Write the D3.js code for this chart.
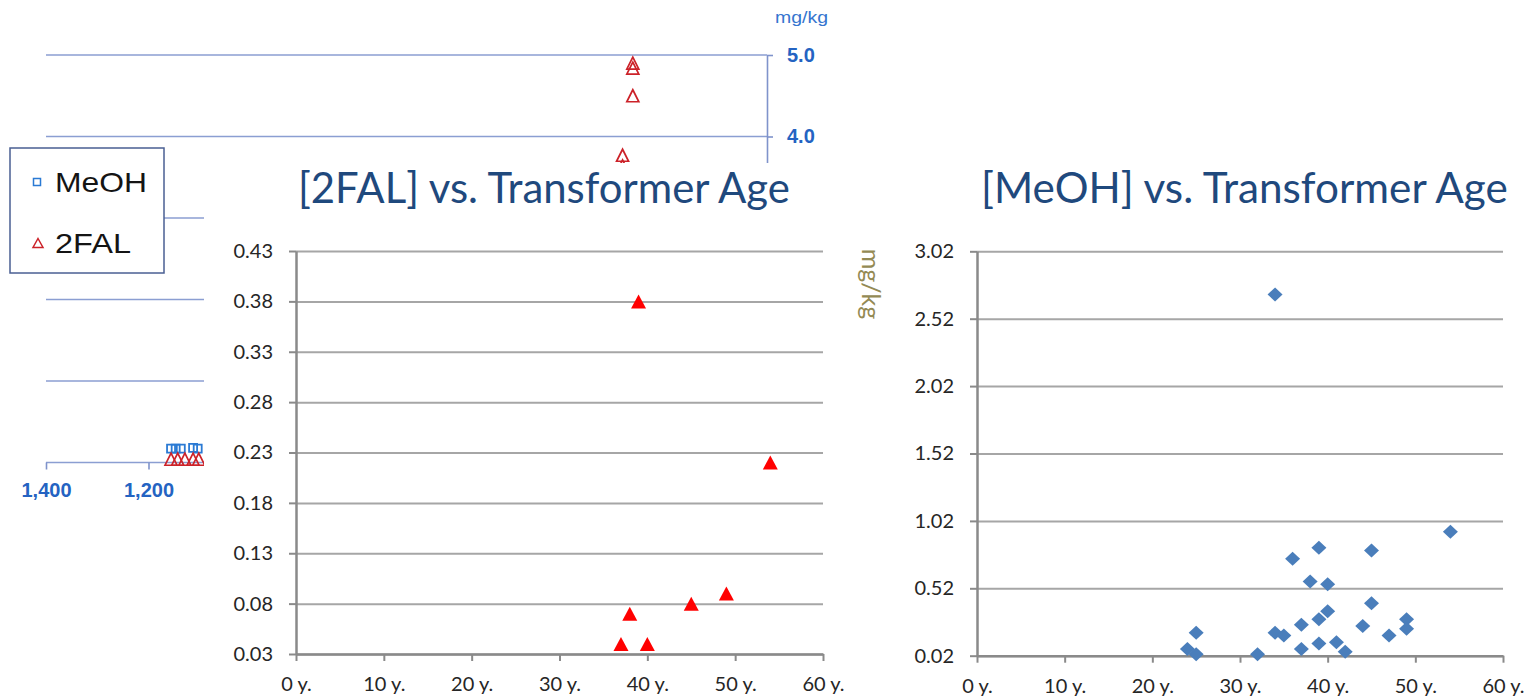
<!DOCTYPE html>
<html>
<head>
<meta charset="utf-8">
<script src="https://cdn.jsdelivr.net/npm/d3@7"></script>
<style>
  body { margin: 0; background: #fff; }
  svg { display: block; }
</style>
</head>
<body>
<div id="chart"></div>
<script>
// [2FAL] vs. Transformer Age
const falAges   = [39, 54, 49, 45, 38, 37, 40];
const falValues = [0.38, 0.22, 0.09, 0.08, 0.07, 0.04, 0.04];
const falTicks  = [0.03, 0.08, 0.13, 0.18, 0.23, 0.28, 0.33, 0.38, 0.43];

// [MeOH] vs. Transformer Age
const meohAges   = [34, 54, 39, 45, 36, 38, 40, 45, 40, 39, 37, 44, 49, 49, 47, 34, 35, 25, 24, 25, 32, 37, 39, 41, 42];
const meohValues = [2.70, 0.94, 0.82, 0.80, 0.74, 0.57, 0.55, 0.41, 0.35, 0.29, 0.25, 0.24, 0.29, 0.22, 0.17,
                    0.19, 0.17, 0.19, 0.07, 0.03, 0.03, 0.07, 0.11, 0.12, 0.05];
const meohTicks  = [0.02, 0.52, 1.02, 1.52, 2.02, 2.52, 3.02];

const ageTicks = [0, 10, 20, 30, 40, 50, 60];

// the older chart that sits behind the two panels (only partly visible)
const backDaysFal  = [255, 255, 255, 275, 275, 1156, 1143, 1129, 1113, 1102];
const backFal      = [4.90, 4.84, 4.50, 3.77, 3.64, 0.04, 0.04, 0.04, 0.04, 0.04];
const backDaysMeoh = [1156, 1147, 1137, 1113, 1104];
const backMeoh     = [0.17, 0.17, 0.17, 0.18, 0.17];
const backGrid     = [0, 1, 2, 3, 4, 5];
const backYTicks   = [4, 5];
const backXTicks   = [1400, 1200];
const legendNames  = ["MeOH", "2FAL"];

const W = 1534, H = 698;
const calibri = "Lato, 'Open Sans', sans-serif";
const arial = "'Liberation Sans', Arial, sans-serif";

const svg = d3.select("#chart").append("svg")
    .attr("width", W)
    .attr("height", H);
svg.append("rect").attr("width", W).attr("height", H).attr("fill", "#fff");

// marker paths centred on 0,0
function triPath(w, h) {
    const p = d3.path();
    p.moveTo(0, -h / 2); p.lineTo(w / 2, h / 2); p.lineTo(-w / 2, h / 2); p.closePath();
    return p.toString();
}
function diamondPath(w, h) {
    const p = d3.path();
    p.moveTo(0, -h / 2); p.lineTo(w / 2, 0); p.lineTo(0, h / 2); p.lineTo(-w / 2, 0); p.closePath();
    return p.toString();
}
function squarePath(s) {
    const p = d3.path();
    p.rect(-s / 2, -s / 2, s, s);
    return p.toString();
}

// ---------- background chart ----------
const backRight = 767;
const bx = d3.scaleLinear().domain([1400, 1200]).range([46, 148.5]);
const by = d3.scaleLinear().domain([0, 5]).range([462.5, 55]);
const back = svg.append("g");

back.selectAll("line.grid")
    .data(backGrid)
    .join("line")
    .attr("class", "grid")
    .attr("x1", bx(1400)).attr("x2", backRight)
    .attr("y1", d => by(d)).attr("y2", d => by(d))
    .attr("stroke", "#8b9ed2")
    .attr("stroke-width", 1.6);

const bYAxis = back.append("g")
    .attr("transform", `translate(${backRight},0)`)
    .call(d3.axisRight(by).tickValues(backYTicks).tickSize(6).tickSizeOuter(0).tickPadding(14).tickFormat(d3.format(".1f")));
const bXAxis = back.append("g")
    .attr("transform", `translate(0,${by(0)})`)
    .call(d3.axisBottom(bx).tickValues(backXTicks).tickSize(7).tickSizeOuter(0).tickPadding(13).tickFormat(d3.format(",")));
bXAxis.select(".domain").remove();
[bYAxis, bXAxis].forEach(a => {
    a.selectAll(".domain, .tick line").attr("stroke", "#7f93cb").attr("stroke-width", 1.6);
    a.selectAll(".tick text")
        .attr("fill", "#2463c2")
        .attr("font-family", arial)
        .attr("font-weight", "bold")
        .attr("font-size", 20);
});

back.append("text")
    .attr("x", 775)
    .attr("y", 23)
    .attr("font-family", arial)
    .attr("font-size", 16)
    .attr("textLength", 53)
    .attr("lengthAdjust", "spacingAndGlyphs")
    .attr("fill", "#3575cf")
    .text("mg/kg");

back.selectAll("path.bmeoh")
    .data(backDaysMeoh)
    .join("path")
    .attr("class", "bmeoh")
    .attr("d", squarePath(8))
    .attr("transform", (d, i) => `translate(${bx(d)},${by(backMeoh[i])})`)
    .attr("fill", "none")
    .attr("stroke", "#2a7ad4")
    .attr("stroke-width", 1.8);

back.selectAll("path.bfal")
    .data(backDaysFal)
    .join("path")
    .attr("class", "bfal")
    .attr("d", triPath(12, 12))
    .attr("transform", (d, i) => `translate(${bx(d)},${by(backFal[i])})`)
    .attr("fill", "none")
    .attr("stroke", "#cc2229")
    .attr("stroke-width", 1.7);

// legend of the background chart
const legend = svg.append("g");
legend.append("rect")
    .attr("x", 10).attr("y", 148)
    .attr("width", 154).attr("height", 125)
    .attr("fill", "#fff")
    .attr("stroke", "#4a5f93")
    .attr("stroke-width", 1.5);
legend.selectAll("text")
    .data(legendNames)
    .join("text")
    .attr("x", 55)
    .attr("y", (d, i) => 192 + i * 61)
    .attr("font-family", arial)
    .attr("font-size", 28)
    .attr("textLength", (d, i) => i === 0 ? 92 : 76)
    .attr("lengthAdjust", "spacingAndGlyphs")
    .attr("fill", "#141414")
    .text(d => d);
legend.append("path")
    .attr("d", squarePath(7))
    .attr("transform", "translate(37,182)")
    .attr("fill", "none")
    .attr("stroke", "#2a7ad4")
    .attr("stroke-width", 1.5);
legend.append("path")
    .attr("d", triPath(10, 9))
    .attr("transform", "translate(38,243)")
    .attr("fill", "none")
    .attr("stroke", "#cc2229")
    .attr("stroke-width", 1.5);

// ---------- front panels ----------
function fitTitle(sel, width) {
    const base = 40;
    sel.attr("font-size", base);
    const len = sel.node().getComputedTextLength();
    sel.attr("font-size", base * width / len);
}

function panel(opt) {
    const g = svg.append("g");
    if (opt.cover) {
        g.append("rect")
            .attr("x", opt.cover[0]).attr("y", opt.cover[1])
            .attr("width", opt.cover[2]).attr("height", opt.cover[3])
            .attr("fill", "#fff");
    }
    const x = d3.scaleLinear().domain([0, 60]).range([opt.left, opt.right]);
    const y = d3.scaleLinear().domain(d3.extent(opt.yTicks)).range([opt.bottom, opt.top]);

    // gridlines
    g.append("g")
        .attr("transform", `translate(${opt.left},0)`)
        .call(d3.axisLeft(y).tickValues(opt.yTicks).tickSize(-(opt.right - opt.left)).tickFormat(""))
        .call(s => s.select(".domain").remove())
        .selectAll("line")
        .attr("stroke", "#a6a6a6")
        .attr("stroke-width", 2);

    const ya = g.append("g")
        .attr("transform", `translate(${opt.left},0)`)
        .call(d3.axisLeft(y).tickValues(opt.yTicks).tickSize(7).tickSizeOuter(0).tickPadding(16).tickFormat(d3.format(".2f")));
    const xa = g.append("g")
        .attr("transform", `translate(0,${opt.bottom})`)
        .call(d3.axisBottom(x).tickValues(ageTicks).tickSize(7).tickSizeOuter(0).tickPadding(16).tickFormat(d => d + " y."));
    [ya, xa].forEach(a => {
        a.select(".domain").attr("stroke", "#8a8a8a").attr("stroke-width", 2.5);
        a.selectAll(".tick line").attr("stroke", "#8a8a8a").attr("stroke-width", 2);
        a.selectAll(".tick text")
            .attr("fill", "#262626")
            .attr("font-family", calibri)
            .attr("font-size", 20);
    });

    const title = g.append("text")
        .attr("x", opt.titleX)
        .attr("y", 203)
        .attr("font-family", calibri)
        .attr("fill", "#1f497d")
        .text(opt.title);
    fitTitle(title, opt.titleW);

    g.selectAll("path.pt")
        .data(opt.ages)
        .join("path")
        .attr("class", "pt")
        .attr("d", opt.shape)
        .attr("transform", (d, i) => `translate(${x(d)},${y(opt.values[i])})`)
        .attr("fill", opt.color);

    return { g, x, y };
}

panel({
    cover: [204, 163, 656, 535],
    left: 296, right: 823, top: 251, bottom: 654,
    yTicks: falTicks,
    title: "[2FAL] vs. Transformer Age", titleX: 298, titleW: 492,
    ages: falAges, values: falValues,
    shape: triPath(15, 14), color: "#ff0000"
});

const meohPanel = panel({
    cover: [860, 160, 674, 538],
    left: 977, right: 1503, top: 251.3, bottom: 655.7,
    yTicks: meohTicks,
    title: "[MeOH] vs. Transformer Age", titleX: 981, titleW: 527,
    ages: meohAges, values: meohValues,
    shape: diamondPath(15, 14), color: "#4a7ebb"
});

meohPanel.g.append("text")
    .attr("transform", "translate(869.5,284) rotate(90)")
    .attr("text-anchor", "middle")
    .attr("dy", "0.32em")
    .attr("font-family", calibri)
    .attr("font-size", 25)
    .attr("fill", "#948a54")
    .text("mg/kg");
</script>
</body>
</html>
